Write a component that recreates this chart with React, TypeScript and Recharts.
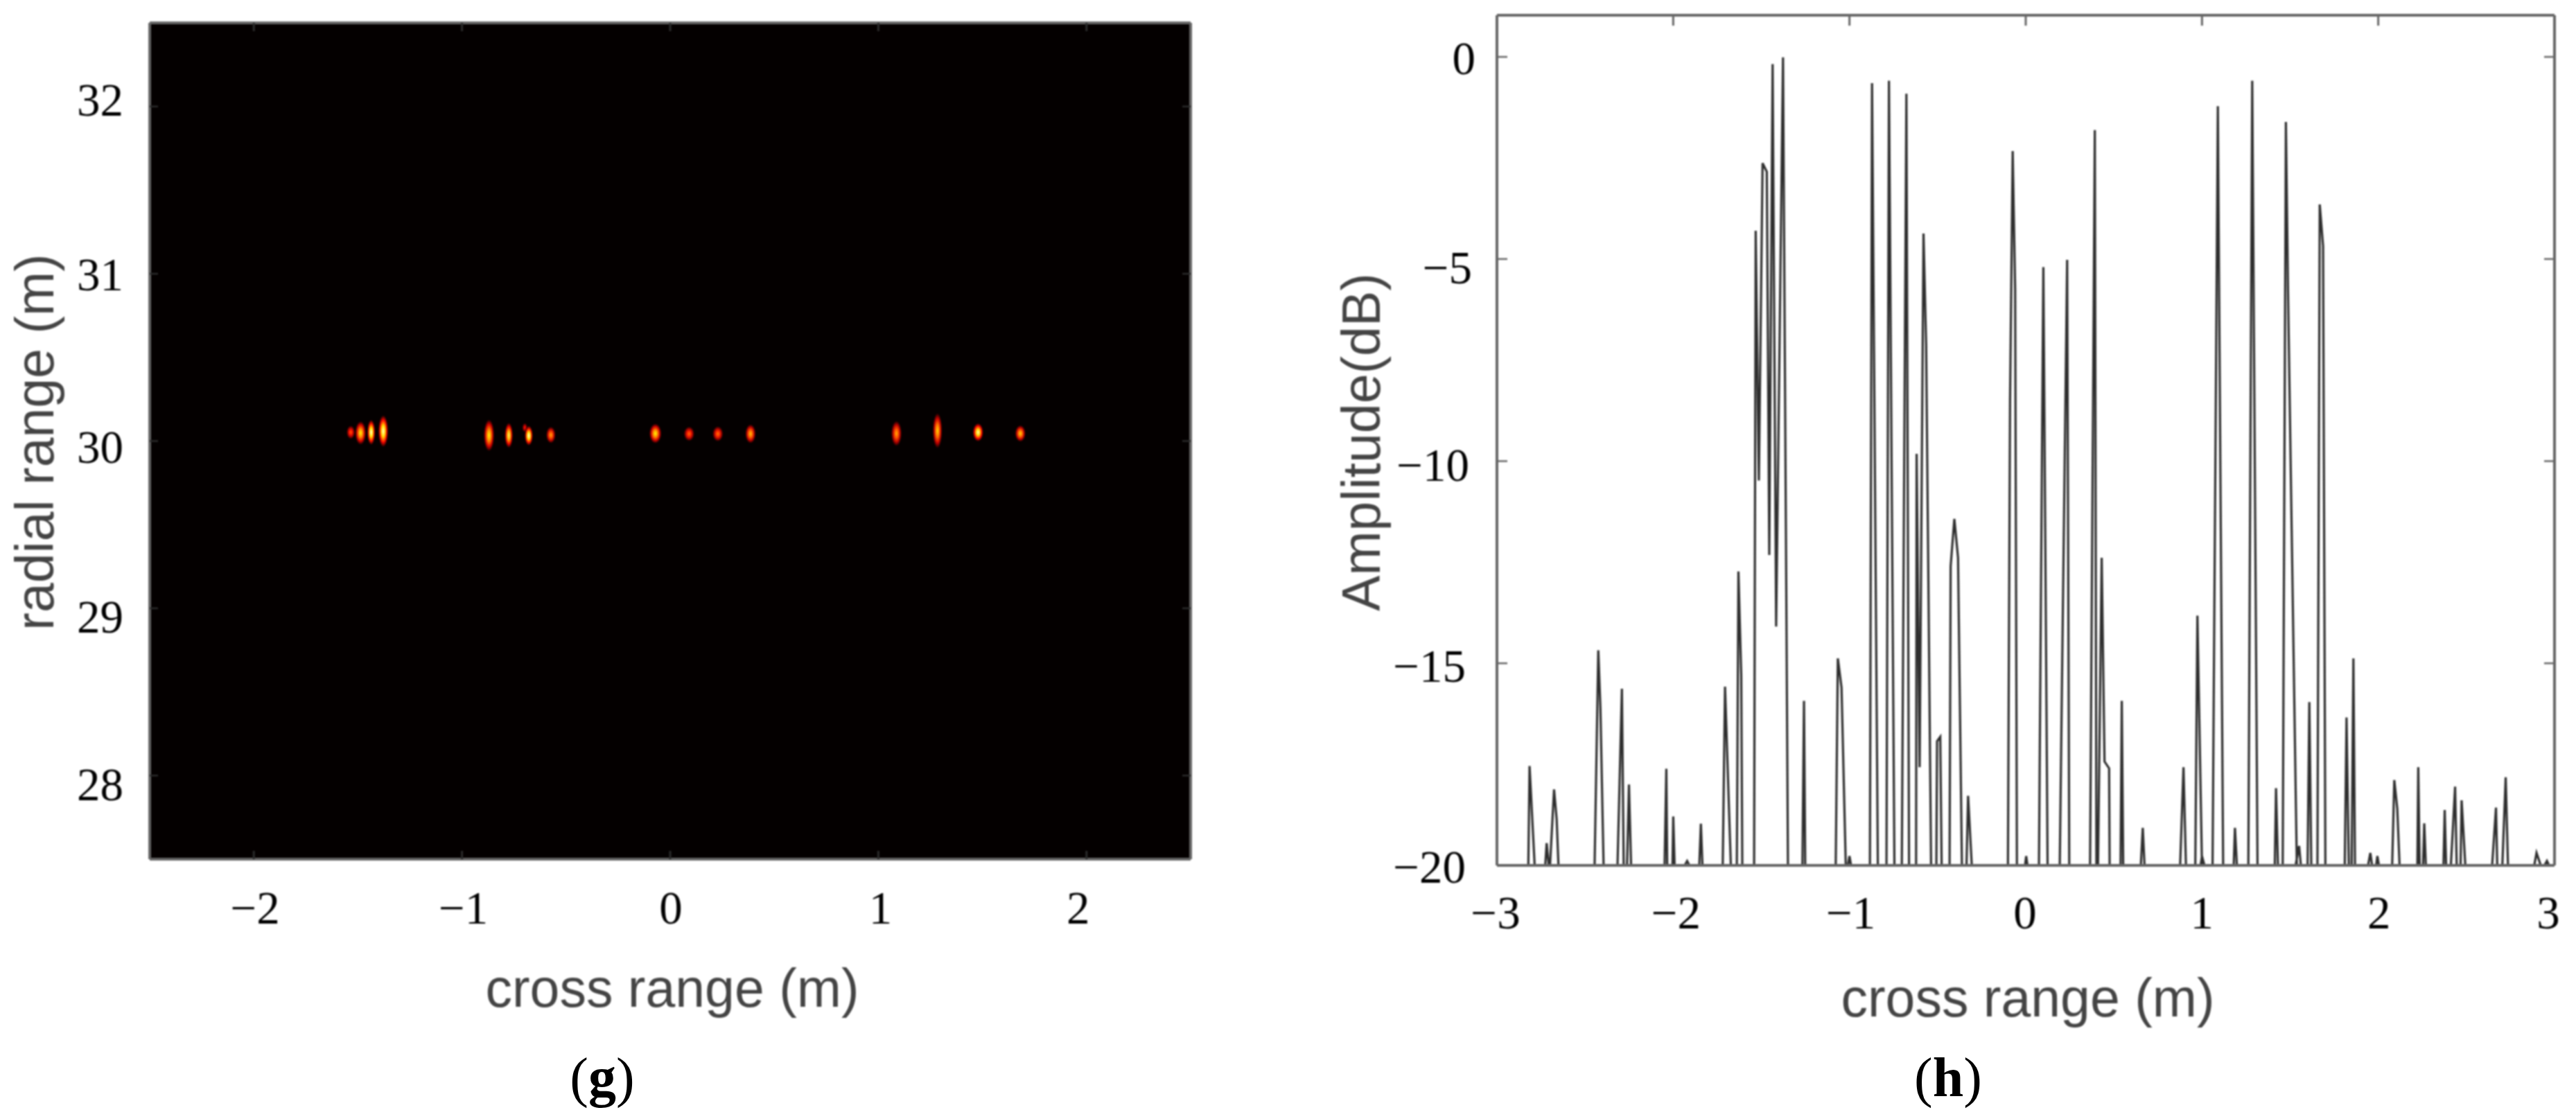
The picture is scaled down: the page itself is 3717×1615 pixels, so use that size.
import React from "react"
import {
    Line,
    LineChart,
    Scatter,
    ScatterChart,
    XAxis,
    YAxis,
    CartesianGrid,
    Label
} from "recharts"

// panel (g): scatterers in the ISAR image
const spotCross = [-1.534, -1.487, -1.436, -1.378, -0.87, -0.775, -0.698, -0.679, -0.573, -0.071, 0.091, 0.229, 0.386, 1.087, 1.284, 1.479, 1.682]
const spotRadial = [30.052, 30.048, 30.052, 30.059, 30.034, 30.034, 30.08, 30.032, 30.036, 30.045, 30.043, 30.043, 30.043, 30.045, 30.062, 30.052, 30.045]
const spotSpanCross = [0.04, 0.052, 0.038, 0.047, 0.05, 0.039, 0.024, 0.039, 0.045, 0.058, 0.05, 0.05, 0.05, 0.05, 0.045, 0.05, 0.05]
const spotSpanRadial = [0.08, 0.14, 0.15, 0.19, 0.19, 0.15, 0.054, 0.118, 0.098, 0.118, 0.086, 0.09, 0.113, 0.15, 0.21, 0.108, 0.098]
const spotPeak = [0.55, 0.8, 1, 0.97, 0.8, 0.88, 0.45, 1, 0.68, 0.8, 0.58, 0.6, 0.72, 0.68, 0.75, 0.95, 0.75]

// panel (h): range profile, one row per lobe
const crossRange = [
    -2.822, -2.815, -2.786,
    -2.726, -2.718, -2.706,
    -2.699, -2.676, -2.661, -2.651,
    -2.446, -2.425, -2.413, -2.395,
    -2.316, -2.291, -2.281,
    -2.262, -2.251, -2.239,
    -2.049, -2.039, -2.034,
    -2.004, -1.9998, -1.992,
    -1.935, -1.921, -1.908,
    -1.852, -1.843, -1.834,
    -1.719, -1.706, -1.673,
    -1.639, -1.63, -1.614, -1.608,
    -1.541, -1.532, -1.514, -1.493, -1.469, -1.455, -1.436, -1.416, -1.377, -1.349,
    -1.267, -1.258, -1.251,
    -1.078, -1.066, -1.045, -1.021,
    -1.009, -1.0, -0.991,
    -0.884, -0.872, -0.839,
    -0.79, -0.776, -0.745,
    -0.703, -0.677, -0.662,
    -0.622, -0.619, -0.602, -0.58, -0.565, -0.537,
    -0.507, -0.503, -0.485, -0.477,
    -0.432, -0.426, -0.405, -0.384, -0.362,
    -0.336, -0.327, -0.306,
    -0.101, -0.089, -0.074, -0.06, -0.05,
    -0.004, 0.0025, 0.01,
    0.075, 0.1, 0.124,
    0.193, 0.235, 0.247,
    0.365, 0.392, 0.401,
    0.41, 0.431, 0.447, 0.473, 0.476,
    0.538, 0.545, 0.553,
    0.653, 0.664, 0.674,
    0.876, 0.895, 0.909,
    0.962, 0.974, 1.0,
    0.992, 1.0, 1.014,
    1.06, 1.09, 1.12,
    1.18, 1.187, 1.198,
    1.263, 1.285, 1.315,
    1.413, 1.42, 1.431,
    1.458, 1.476, 1.488, 1.538,
    1.531, 1.551, 1.561,
    1.599, 1.609, 1.62,
    1.655, 1.668, 1.687, 1.7,
    1.81, 1.82, 1.833,
    1.849, 1.859, 1.868,
    1.942, 1.955, 1.965,
    1.988, 1.995, 2.004,
    2.079, 2.091, 2.108, 2.121,
    2.222, 2.227, 2.235,
    2.254, 2.261, 2.27,
    2.37, 2.377, 2.385,
    2.412, 2.436, 2.445,
    2.467, 2.473, 2.494,
    2.646, 2.668, 2.675,
    2.704, 2.723, 2.736,
    2.885, 2.898, 2.922,
    2.943, 2.957, 2.969
]
const amplitude = [
    -20, -17.54, -20,
    -20, -19.45, -20,
    -20, -18.12, -18.87, -20,
    -20, -14.68, -16.1, -20,
    -20, -15.63, -20,
    -20, -18.0, -20,
    -20, -17.61, -20,
    -20, -18.79, -20,
    -20, -19.89, -20,
    -20, -18.97, -20,
    -20, -15.58, -20,
    -20, -12.73, -15.3, -20,
    -20, -4.3, -10.48, -2.63, -2.84, -12.32, -0.18, -14.09, -0.01, -20,
    -20, -15.93, -20,
    -20, -14.88, -15.6, -20,
    -20, -19.77, -20,
    -20, -0.65, -20,
    -20, -0.59, -20,
    -20, -0.91, -20,
    -20, -9.82, -17.57, -4.37, -7.13, -20,
    -20, -16.93, -16.82, -20,
    -20, -12.6, -11.43, -12.39, -20,
    -20, -18.28, -20,
    -20, -8.5, -2.33, -5.77, -20,
    -20, -19.77, -20,
    -20, -5.2, -20,
    -20, -5.02, -20,
    -20, -1.81, -20,
    -20, -12.39, -17.43, -17.6, -20,
    -20, -15.93, -20,
    -20, -19.07, -20,
    -20, -17.57, -20,
    -20, -13.82, -20,
    -20, -19.77, -20,
    -20, -1.22, -20,
    -20, -19.07, -20,
    -20, -0.59, -20,
    -20, -18.09, -20,
    -20, -1.61, -5.77, -20,
    -20, -19.52, -20,
    -20, -15.96, -20,
    -20, -3.65, -4.68, -20,
    -20, -16.34, -20,
    -20, -14.88, -20,
    -20, -19.69, -20,
    -20, -19.77, -20,
    -20, -17.89, -18.6, -20,
    -20, -17.57, -20,
    -20, -18.96, -20,
    -20, -18.63, -20,
    -20, -18.05, -20,
    -20, -18.39, -20,
    -20, -18.57, -20,
    -20, -17.82, -20,
    -20, -19.69, -20,
    -20, -19.89, -20
]

const imageCrossTicks = [-2, -1, 0, 1, 2]
const imageRadialTicks = [28, 29, 30, 31, 32]
const profileCrossTicks = [-3, -2, -1, 0, 1, 2, 3]
const profileAmpTicks = [-20, -15, -10, -5, 0]

const spots = spotCross.map((x, i) => ({
    x,
    y: spotRadial[i],
    spanX: spotSpanCross[i],
    spanY: spotSpanRadial[i],
    peak: spotPeak[i],
    id: i
}))
const profile = crossRange.map((x, i) => ({ x, y: amplitude[i] }))

const SERIF = "'Liberation Serif', serif"
const SANS = "'Liberation Sans', sans-serif"
const FRAME = "#666"
const IMAGE_BG = "#040000"
const TICK_FONT = 67
const TITLE_FONT = 77

// the plot boxes of the two panels
const IMAGE_PX_PER_X = 300
const IMAGE_PX_PER_Y = 241

// the labels in the figure were pasted by hand and drift off their ticks
const imageXNudge: Record<number, number> = { [-2]: 2, [-1]: 2, 0: 1, 1: 3, 2: -12 }
const imageYNudge: Record<number, number> = { 32: -10, 31: 1, 30: 8, 29: 12, 28: 13 }
const profileXNudge: Record<number, number> = { [-3]: -2, [-2]: 4, [-1]: 2, 0: -1, 1: 0, 2: 1, 3: -9 }
const profileYNudge: Record<number, number> = { 0: 2, [-5]: 12, [-10]: 5, [-15]: 4, [-20]: 2 }
const profileYIndent: Record<number, number> = { 0: 14, [-5]: 9, [-10]: 5, [-15]: 0, [-20]: 0 }

const minus = (v: number) => String(v).replace("-", "\u2212")

function hot(t: number) {
    const r = Math.min(1, t / 0.4)
    const g = Math.max(0, Math.min(1, (t - 0.4) / 0.4))
    const b = Math.max(0, Math.min(1, (t - 0.8) / 0.2))
    return `rgb(${Math.round(r * 255)},${Math.round(g * 255)},${Math.round(b * 255)})`
}

function SpotShape(props: any) {
    const { cx, cy, payload } = props
    const gid = `spot${payload.id}`
    return (
        <g>
            <defs>
                <radialGradient id={gid}>
                    <stop offset="0%" stopColor={hot(payload.peak)} />
                    <stop offset="35%" stopColor={hot(payload.peak * 0.78)} />
                    <stop offset="70%" stopColor={hot(payload.peak * 0.42)} />
                    <stop offset="100%" stopColor={IMAGE_BG} />
                </radialGradient>
            </defs>
            <ellipse
                cx={cx}
                cy={cy}
                rx={(payload.spanX * IMAGE_PX_PER_X) / 2}
                ry={(payload.spanY * IMAGE_PX_PER_Y) / 2}
                fill={`url(#${gid})`}
            />
        </g>
    )
}

// ticks point into the plot, so line and text are drawn together
const bottomTick = (nudge: Record<number, number>, dy: number, color: string, len: number) => (props: any) => {
    const { x, y, payload } = props
    return (
        <g>
            <line x1={x} x2={x} y1={y} y2={y - len} stroke={color} strokeWidth={3} />
            <text
                x={x + (nudge[payload.value] || 0)}
                y={y + dy}
                textAnchor="middle"
                dominantBaseline="central"
                fontFamily={SERIF}
                fontSize={TICK_FONT}
                fill="#000"
            >
                {minus(payload.value)}
            </text>
        </g>
    )
}

const topTick = (color: string, len: number) => (props: any) => (
    <line x1={props.x} x2={props.x} y1={props.y} y2={props.y + len} stroke={color} strokeWidth={3} />
)

const leftTick = (nudge: Record<number, number>, indent: Record<number, number>, dx: number, color: string, len: number) => (props: any) => {
    const { x, y, payload } = props
    return (
        <g>
            <line x1={x} x2={x + len} y1={y} y2={y} stroke={color} strokeWidth={2.5} />
            <text
                x={x - dx + (indent[payload.value] || 0)}
                y={y + (nudge[payload.value] || 0)}
                textAnchor="end"
                dominantBaseline="central"
                fontFamily={SERIF}
                fontSize={TICK_FONT}
                fill="#000"
            >
                {minus(payload.value)}
            </text>
        </g>
    )
}

const rightTick = (color: string, len: number) => (props: any) => (
    <line x1={props.x} x2={props.x - len} y1={props.y} y2={props.y} stroke={color} strokeWidth={2.5} />
)

const title = (text: string, x: number, y: number, rotate?: boolean) => () => (
    <text
        x={x}
        y={y}
        textAnchor="middle"
        dominantBaseline="central"
        fontFamily={SANS}
        fontSize={TITLE_FONT}
        fill="#444"
        transform={rotate ? `rotate(-90 ${x} ${y})` : undefined}
    >
        {text}
    </text>
)

const axisLine = { stroke: FRAME, strokeWidth: 4 }

function ImagePanel() {
    const xDomain: [number, number] = [-2.5, 2.5]
    const yDomain: [number, number] = [27.5, 32.5]
    return (
        <ScatterChart
            width={1860}
            height={1615}
            margin={{ left: 215, top: 32, right: 141, bottom: 374 }}
        >
            <CartesianGrid fill={IMAGE_BG} horizontal={false} vertical={false} />
            <XAxis
                type="number"
                dataKey="x"
                domain={xDomain}
                ticks={imageCrossTicks}
                interval={0}
                height={1}
                tickSize={0}
                tickMargin={0}
                tickLine={false}
                axisLine={axisLine}
                tick={bottomTick(imageXNudge, 70, "#2a2a2a", 12)}
                allowDataOverflow
            >
                <Label content={title("cross range (m)", 970, 1426)} />
            </XAxis>
            <XAxis
                xAxisId="top"
                orientation="top"
                type="number"
                dataKey="x"
                domain={xDomain}
                ticks={imageCrossTicks}
                interval={0}
                height={1}
                tickSize={0}
                tickMargin={0}
                tickLine={false}
                axisLine={axisLine}
                tick={topTick("#2a2a2a", 12)}
                allowDataOverflow
            />
            <YAxis
                type="number"
                dataKey="y"
                domain={yDomain}
                ticks={imageRadialTicks}
                interval={0}
                width={1}
                tickSize={0}
                tickMargin={0}
                tickLine={false}
                axisLine={axisLine}
                tick={leftTick(imageYNudge, {}, 38, "#2a2a2a", 12)}
                allowDataOverflow
            >
                <Label content={title("radial range (m)", 50, 638, true)} />
            </YAxis>
            <YAxis
                yAxisId="right"
                orientation="right"
                type="number"
                dataKey="y"
                domain={yDomain}
                ticks={imageRadialTicks}
                interval={0}
                width={1}
                tickSize={0}
                tickMargin={0}
                tickLine={false}
                axisLine={axisLine}
                tick={rightTick("#2a2a2a", 12)}
                allowDataOverflow
            />
            <Scatter data={spots} shape={SpotShape} isAnimationActive={false} />
        </ScatterChart>
    )
}

function ProfilePanel() {
    const xDomain: [number, number] = [-3, 3]
    const yDomain: [number, number] = [-20, 1.03]
    return (
        <LineChart
            width={1857}
            height={1615}
            data={profile}
            margin={{ left: 299, top: 21, right: 30, bottom: 365 }}
        >
            <XAxis
                type="number"
                dataKey="x"
                domain={xDomain}
                ticks={profileCrossTicks}
                interval={0}
                height={1}
                tickSize={0}
                tickMargin={0}
                tickLine={false}
                axisLine={axisLine}
                tick={bottomTick(profileXNudge, 68, FRAME, 0)}
                allowDataOverflow
            >
                <Label content={title("cross range (m)", 1066, 1440)} />
            </XAxis>
            <XAxis
                xAxisId="top"
                orientation="top"
                type="number"
                dataKey="x"
                domain={xDomain}
                ticks={profileCrossTicks}
                interval={0}
                height={1}
                tickSize={0}
                tickMargin={0}
                tickLine={false}
                axisLine={axisLine}
                tick={topTick(FRAME, 15)}
                allowDataOverflow
            />
            <YAxis
                type="number"
                dataKey="y"
                domain={yDomain}
                ticks={profileAmpTicks}
                interval={0}
                width={1}
                tickSize={0}
                tickMargin={0}
                tickLine={false}
                axisLine={axisLine}
                tick={leftTick(profileYNudge, profileYIndent, 45, FRAME, 15)}
                allowDataOverflow
            >
                <Label content={title("Amplitude(dB)", 104, 638, true)} />
            </YAxis>
            <YAxis
                yAxisId="right"
                orientation="right"
                type="number"
                dataKey="y"
                domain={yDomain}
                ticks={profileAmpTicks}
                interval={0}
                width={1}
                tickSize={0}
                tickMargin={0}
                tickLine={false}
                axisLine={axisLine}
                tick={rightTick(FRAME, 15)}
                allowDataOverflow
            />
            <Line
                type="linear"
                dataKey="y"
                stroke="#2e2e2e"
                strokeWidth={3.2}
                strokeLinejoin="miter"
                dot={false}
                isAnimationActive={false}
            />
        </LineChart>
    )
}

function Caption({ letter, x }: { letter: string; x: number }) {
    return (
        <div
            style={{
                position: "absolute",
                left: x - 100,
                top: 1555 - 50,
                width: 200,
                height: 100,
                lineHeight: "100px",
                textAlign: "center",
                fontFamily: SERIF,
                fontSize: 80,
                color: "#000"
            }}
        >
            (<b>{letter}</b>)
        </div>
    )
}

export default function App() {
    // the source figure is an upscaled raster, hence the slight softening
    const soft = "blur(1px)"
    return (
        <div style={{ position: "absolute", left: 0, top: 0, width: 3717, height: 1615, background: "#fff", overflow: "hidden" }}>
            <div style={{ position: "absolute", left: 0, top: 0, filter: soft }}>
                <ImagePanel />
            </div>
            <div style={{ position: "absolute", left: 1860, top: 0, filter: soft }}>
                <ProfilePanel />
            </div>
            <Caption letter="g" x={869} />
            <Caption letter="h" x={2811} />
        </div>
    )
}
